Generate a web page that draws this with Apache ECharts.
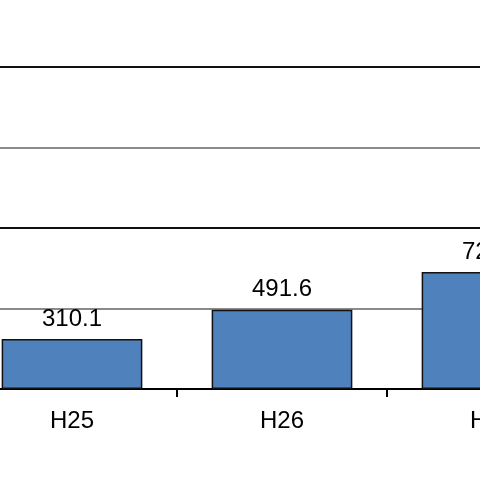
<!DOCTYPE html>
<html><head><meta charset="utf-8">
<script src="https://cdn.jsdelivr.net/npm/echarts@6/dist/echarts.min.js"></script>
<style>html,body{margin:0;padding:0;background:#fff}#c{width:480px;height:480px}</style>
</head><body><div id="c"></div>
<script>
const categories = ['H25', 'H26', 'H27'];
const values = [310.1, 491.6, 727.0];
const yTicks = [0, 500, 1000, 1500, 2000];

const chart = echarts.init(document.getElementById('c'), null, {renderer: 'canvas'});
chart.setOption({
  animation: false,
  backgroundColor: '#ffffff',
  grid: {left: -33, width: 630, top: 67, bottom: 91, containLabel: false, outerBoundsMode: 'none'},
  xAxis: {
    type: 'category',
    data: categories,
    axisLine: {lineStyle: {color: '#000', width: 2}},
    axisTick: {show: true, length: 8, lineStyle: {color: '#000', width: 2}},
    axisLabel: {color: '#000', fontSize: 24, fontFamily: 'Liberation Sans, Arial, sans-serif', margin: 20}
  },
  yAxis: {
    type: 'value',
    min: yTicks[0], max: yTicks[yTicks.length - 1], interval: 500,
    axisLine: {show: false}, axisTick: {show: false}, axisLabel: {show: false},
    splitLine: {show: true, lineStyle: {color: ['#111', '#8a8a8a'], width: 2}}
  },
  series: [{
    type: 'bar',
    data: values,
    barWidth: '67%',
    itemStyle: {color: '#4F81BD', borderColor: '#111', borderWidth: 1.5},
    label: {show: true, position: 'top', distance: 8, color: '#000', fontSize: 24,
      fontFamily: 'Liberation Sans, Arial, sans-serif',
      formatter: p => p.value.toFixed(1)}
  }]
});
</script></body></html>
